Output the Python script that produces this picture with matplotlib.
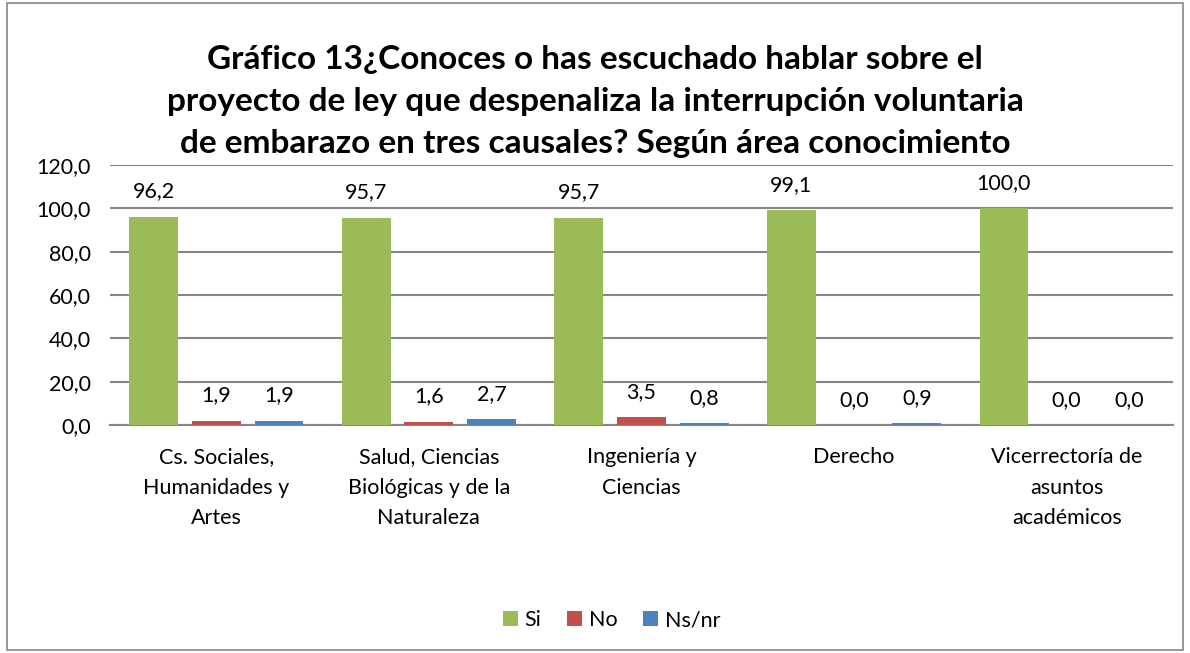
import matplotlib.pyplot as plt
import numpy as np
from matplotlib.patches import Rectangle

plt.rcParams['font.family'] = ['Lato', 'DejaVu Sans']

areas = ['Cs. Sociales,\nHumanidades y\nArtes',
         'Salud, Ciencias\nBiológicas y de la\nNaturaleza',
         'Ingeniería y\nCiencias',
         'Derecho',
         'Vicerrectoría de\nasuntos\nacadémicos']
si = [96.2, 95.7, 95.7, 99.1, 100.0]
no = [1.9, 1.6, 3.5, 0.0, 0.0]
nsnr = [1.9, 2.7, 0.8, 0.9, 0.0]

series = [('Si', si, '#9BBB59'), ('No', no, '#C0504D'), ('Ns/nr', nsnr, '#4F81BD')]

fig = plt.figure(figsize=(11.9, 6.53), dpi=100)
ax = fig.add_axes([0.0924, 0.3492, 0.8933, 0.3981])

x = np.arange(len(areas))
width = 0.23
offsets = [-0.295, 0, 0.295]
for (name, vals, col), off in zip(series, offsets):
    bars = ax.bar(x + off, vals, width, color=col, label=name, zorder=3)
    for b, v in zip(bars, vals):
        ax.annotate(f'{v:.1f}'.replace('.', ','), (b.get_x() + b.get_width() / 2, v),
                    xytext=(0, 11), textcoords='offset points',
                    ha='center', va='bottom', fontsize=15.5)

ax.set_xlim(-0.5, len(areas) - 0.5)
ax.set_ylim(0, 120)
ax.set_yticks(range(0, 121, 20))
ax.set_yticklabels([f'{t},0' for t in range(0, 121, 20)], fontsize=15.5)
ax.set_xticks(x)
ax.set_xticklabels(areas, fontsize=15.5, linespacing=1.65)
ax.tick_params(axis='x', length=0, pad=16)
ax.tick_params(axis='y', length=0, pad=14)
ax.grid(axis='y', color='#868686', linewidth=1.5, zorder=0)
for s in ['left', 'right', 'top']:
    ax.spines[s].set_visible(False)
ax.spines['bottom'].set_color('#868686')
ax.spines['bottom'].set_linewidth(1.5)

fig.text(0.5, 0.845,
         'Gráfico 13¿Conoces o has escuchado hablar sobre el\n'
         'proyecto de ley que despenaliza la interrupción voluntaria\n'
         'de embarazo en tres causales? Según área conocimiento',
         ha='center', va='center', fontsize=24, fontweight='bold', linespacing=1.55)

fig.legend(loc='center', bbox_to_anchor=(0.514, 0.05), ncol=3, frameon=False,
           fontsize=15.5, handlelength=0.7, handleheight=0.7, handletextpad=0.3,
           columnspacing=1.2)

fig.patches.append(Rectangle((0.006, 0.004), 0.988, 0.992, transform=fig.transFigure,
                             fill=False, edgecolor='#868686', linewidth=1.2))

fig.savefig('out.png', dpi=100)
